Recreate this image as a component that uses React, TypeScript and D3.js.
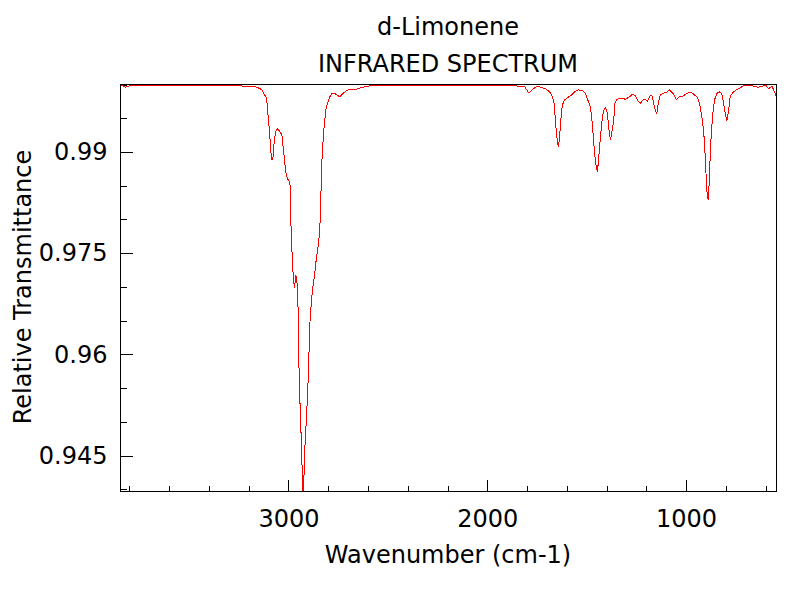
import { useEffect, useRef } from 'react';
import * as d3 from 'd3';

const wavenumbers = [
  3842, 3822, 3800, 3747, 3700, 3646, 3600, 3546, 3500, 3445, 3400, 3345, 3300, 3244, 3194,
  3169, 3144, 3134, 3119, 3110, 3105, 3099, 3094, 3088, 3083, 3077, 3072, 3065, 3057, 3043,
  3033, 3027, 3020, 3015, 3006, 2996, 2991, 2989, 2984, 2979, 2974, 2969, 2964, 2959, 2953,
  2949, 2944, 2938, 2933, 2928, 2921, 2916, 2909, 2904, 2899, 2894, 2889, 2884, 2879, 2874,
  2869, 2864, 2859, 2854, 2849, 2844, 2839, 2834, 2829, 2824, 2819, 2812, 2806, 2798, 2792,
  2783, 2767, 2755, 2742, 2725, 2708, 2691, 2658, 2625, 2591, 2524, 2440, 2339, 2189, 2038,
  1938, 1862, 1812, 1795, 1787, 1770, 1753, 1728, 1703, 1686, 1672, 1664, 1657, 1652, 1647,
  1642, 1636, 1631, 1626, 1619, 1611, 1594, 1577, 1560, 1544, 1522, 1505, 1494, 1481, 1475,
  1468, 1460, 1451, 1446, 1440, 1435, 1428, 1421, 1413, 1405, 1398, 1391, 1384, 1379, 1373,
  1364, 1358, 1348, 1326, 1304, 1284, 1267, 1254, 1242, 1230, 1217, 1204, 1195, 1180, 1170,
  1163, 1155, 1148, 1140, 1130, 1117, 1099, 1083, 1066, 1049, 1033, 1016, 999, 979, 962,
  941, 932, 923, 915, 908, 903, 898, 893, 888, 883, 878, 873, 865, 857, 845,
  831, 820, 811, 803, 795, 786, 778, 765, 748, 731, 714, 664, 639, 622, 600,
  584, 567, 555, 546,
];

const transmittance = [
  0.9999, 0.9996, 0.9998, 0.9998, 0.9999, 0.9998, 0.9999, 0.9999, 0.9998, 0.9998, 0.9999, 0.9998, 0.9998, 0.9998, 0.9997,
  0.9997, 0.9994, 0.9992, 0.9984, 0.998, 0.9962, 0.9943, 0.9925, 0.9899, 0.9888, 0.9893, 0.9915, 0.993, 0.9935, 0.993,
  0.9925, 0.9908, 0.9888, 0.9873, 0.9861, 0.9856, 0.9849, 0.9804, 0.9765, 0.973, 0.9708, 0.9698, 0.9718, 0.9714, 0.9691,
  0.9603, 0.9545, 0.9494, 0.9449, 0.939, 0.9425, 0.9474, 0.9508, 0.9543, 0.9575, 0.9637, 0.9662, 0.9681, 0.9696, 0.9708,
  0.9716, 0.973, 0.9745, 0.9753, 0.9765, 0.978, 0.9807, 0.9873, 0.9903, 0.9925, 0.9943, 0.9962, 0.997, 0.9977, 0.9982,
  0.9986, 0.9987, 0.9984, 0.9982, 0.9987, 0.9991, 0.9993, 0.9993, 0.9996, 0.9998, 0.9999, 0.9999, 0.9999, 0.9998, 0.9999,
  0.9998, 0.9998, 0.9997, 0.9989, 0.9988, 0.9993, 0.9997, 0.9996, 0.9993, 0.9989, 0.9982, 0.9972, 0.9947, 0.9928, 0.9915,
  0.9908, 0.9923, 0.9943, 0.9962, 0.9972, 0.9977, 0.9981, 0.9984, 0.9989, 0.9992, 0.9991, 0.9986, 0.9977, 0.9967, 0.9952,
  0.9928, 0.9898, 0.9876, 0.9871, 0.9888, 0.9908, 0.993, 0.9952, 0.9962, 0.9966, 0.996, 0.9943, 0.9923, 0.9919, 0.993,
  0.9947, 0.9972, 0.9978, 0.998, 0.9978, 0.9982, 0.9986, 0.9983, 0.9976, 0.9972, 0.9977, 0.9978, 0.9975, 0.9984, 0.9983,
  0.9972, 0.9962, 0.9956, 0.9972, 0.9984, 0.9987, 0.9988, 0.9992, 0.9987, 0.9978, 0.9982, 0.9983, 0.9986, 0.9989, 0.9986,
  0.998, 0.9972, 0.9957, 0.994, 0.9918, 0.9888, 0.9859, 0.9832, 0.9829, 0.9859, 0.9898, 0.9928, 0.9957, 0.9977, 0.9987,
  0.9989, 0.9986, 0.9972, 0.9957, 0.9946, 0.9962, 0.9982, 0.9988, 0.9992, 0.9994, 0.9998, 0.9998, 0.9996, 0.9997, 0.9999,
  0.9994, 0.9997, 0.9989, 0.9982,
];

const yMajorTicks = [0.945, 0.96, 0.975, 0.99];
const xMajorTicks = [3000, 2000, 1000];

const FONT = '"DejaVu Sans", sans-serif';
const SIZE = '24px';

export default function App() {
  const svgRef = useRef<SVGSVGElement>(null);

  useEffect(() => {
    if (!svgRef.current) return;
    const svg = d3.select(svgRef.current);
    svg.selectAll('*').remove();

    const margin = { top: 84.5, left: 120.5 };
    const width = 656;
    const height = 407;

    const x = d3.scaleLinear().domain([3845, 545]).range([0, width]);
    const y = d3.scaleLinear().domain([0.9397, 1.0]).range([height, 0]);

    const g = svg.append('g').attr('transform', `translate(${margin.left},${margin.top})`);

    // titles
    svg.append('text')
      .attr('x', 448).attr('y', 35)
      .attr('text-anchor', 'middle')
      .style('font', `${SIZE} ${FONT}`)
      .text('d-Limonene');
    svg.append('text')
      .attr('x', 448).attr('y', 72)
      .attr('text-anchor', 'middle')
      .style('font', `${SIZE} ${FONT}`)
      .text('INFRARED SPECTRUM');

    // minor ticks
    const yMinor = d3.range(0.94, 1.0001, 0.005);
    const xMinor = d3.range(600, 3801, 200);

    g.append('g')
      .call(d3.axisLeft(y).tickValues(yMinor).tickSize(-6).tickFormat(() => ''))
      .call(a => a.select('.domain').remove());
    g.append('g')
      .attr('transform', `translate(0,${height})`)
      .call(d3.axisBottom(x).tickValues(xMinor).tickSize(-6).tickFormat(() => ''))
      .call(a => a.select('.domain').remove());

    // major ticks with labels
    g.append('g')
      .call(d3.axisLeft(y).tickValues(yMajorTicks).tickSize(-12).tickPadding(13).tickFormat(d => String(d)))
      .call(a => a.select('.domain').remove())
      .call(a => a.selectAll('text').style('font', `${SIZE} ${FONT}`).attr('fill', '#000'));
    g.append('g')
      .attr('transform', `translate(0,${height})`)
      .call(d3.axisBottom(x).tickValues(xMajorTicks).tickSize(-12).tickPadding(18).tickFormat(d => String(d)))
      .call(a => a.select('.domain').remove())
      .call(a => a.selectAll('text').style('font', `${SIZE} ${FONT}`).attr('fill', '#000'));

    g.selectAll('.tick line').attr('stroke', '#000').attr('shape-rendering', 'crispEdges');

    // clip + spectrum
    svg.append('defs').append('clipPath').attr('id', 'plot-clip')
      .append('rect').attr('x', 0).attr('y', 0).attr('width', width).attr('height', height);

    const points = wavenumbers.map((w, i) => [w, transmittance[i]] as [number, number]);
    const line = d3.line<[number, number]>()
      .x(d => x(d[0]))
      .y(d => y(d[1]));

    g.append('path')
      .datum(points)
      .attr('clip-path', 'url(#plot-clip)')
      .attr('fill', 'none')
      .attr('stroke', '#ff0000')
      .attr('stroke-width', 1)
      .attr('shape-rendering', 'crispEdges')
      .attr('d', line);

    // frame
    g.append('rect')
      .attr('x', 0).attr('y', 0)
      .attr('width', width).attr('height', height)
      .attr('fill', 'none')
      .attr('stroke', '#000')
      .attr('shape-rendering', 'crispEdges');

    // axis labels
    svg.append('text')
      .attr('x', 448).attr('y', 563)
      .attr('text-anchor', 'middle')
      .style('font', `${SIZE} ${FONT}`)
      .text('Wavenumber (cm-1)');
    svg.append('text')
      .attr('transform', 'translate(31,287) rotate(-90)')
      .attr('text-anchor', 'middle')
      .style('font', `${SIZE} ${FONT}`)
      .text('Relative Transmittance');
  }, []);

  return (
    <svg
      ref={svgRef}
      width={800}
      height={600}
      style={{ position: 'absolute', left: 0, top: 0, background: '#fff' }}
    />
  );
}
